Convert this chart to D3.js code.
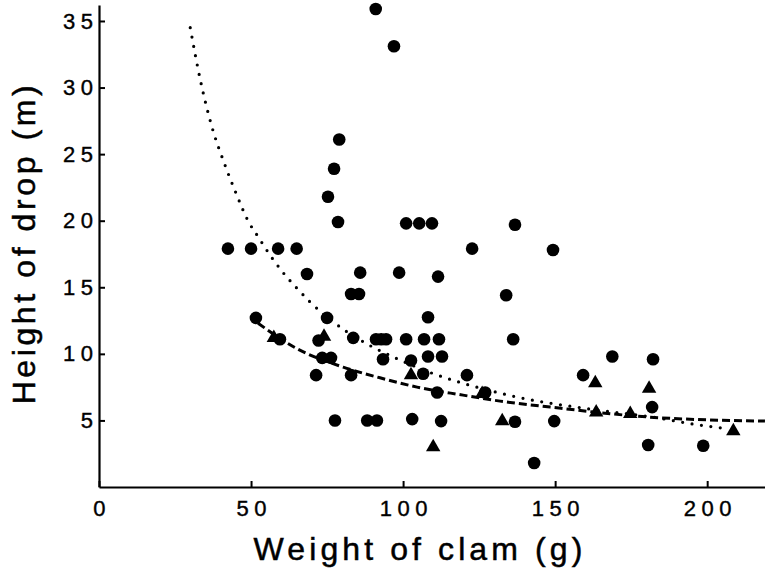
<!DOCTYPE html>
<html>
<head>
<meta charset="utf-8">
<script src="https://cdn.jsdelivr.net/npm/d3@7"></script>
<style>
  body { margin: 0; background: #fff; }
  text { font-family: "Liberation Sans", Arial, sans-serif; fill: #000; }
</style>
</head>
<body>
<div id="chart"></div>
<script>
// circles: weight of clam (g), height of drop (m)
const circleX = [42.4, 50, 58.9, 65, 68.4, 51.6, 91, 97, 79, 77.3, 75.3, 78.6, 101, 105.3, 109.5,
  122.7, 136.8, 149.3, 133.9, 136.2, 168.8, 182.2, 121, 159.2, 127, 181.9, 136.8, 149.7, 180.6,
  198.7, 143.1, 85.9, 98.7, 111.5, 82.9, 85.5, 75, 108.2, 59.5, 72.2, 83.6, 91.1, 92.8, 94.4,
  101, 106.9, 111.8, 73.4, 76.3, 93.4, 102.6, 108.2, 112.8, 71.4, 82.9, 106.6, 111.2, 77.6,
  88.2, 91.4, 103, 112.5];
const circleY = [17.9, 17.9, 17.9, 17.9, 16.0, 12.7, 35.9, 33.1, 26.1, 23.9, 21.8, 19.9, 19.8, 19.8, 19.8,
  17.9, 19.7, 17.8, 14.4, 11.1, 9.8, 9.6, 8.4, 8.4, 7.1, 6.0, 4.9, 4.95, 3.15,
  3.1, 1.8, 16.1, 16.1, 15.8, 14.5, 14.5, 12.7, 12.75, 11.1, 11.0, 11.2, 11.1, 11.1, 11.1,
  11.1, 11.1, 11.1, 9.7, 9.7, 9.6, 9.5, 9.8, 9.8, 8.4, 8.4, 8.5, 7.1, 5.0,
  5.0, 5.0, 5.1, 4.95];

// triangles
const triX = [57.5, 74, 102.6, 109.9, 126, 132.6, 163.2, 163.5, 174.7, 180.9, 208.6];
const triY = [11.2, 11.3, 8.4, 3.0, 7.0, 4.95, 7.8, 5.6, 5.5, 7.4, 4.2];

// dotted curve
const dotX = [30, 33.2, 37.2, 41.4, 45, 49, 52.6, 56.3, 60.2, 64.8, 69.4, 80, 88.5, 97.4, 109.5,
  118.8, 131, 137.5, 160, 183.5, 196, 206];
const dotY = [34.5, 30.7, 27, 24.2, 22.1, 20, 18.7, 17.4, 16.2, 15, 13.9, 11.9, 10.7, 9.7, 8.55,
  7.85, 7.1, 6.75, 5.9, 5.2, 4.7, 4.4];

// dashed curve
const dashX = [52.3, 65, 80.3, 92.4, 104.6, 119.7, 131.9, 148.4, 181, 219];
const dashY = [12.3, 10.4, 9.0, 8.2, 7.5, 6.9, 6.45, 6.0, 5.25, 4.95];

const xTicks = [0, 50, 100, 150, 200];
const yTicks = [5, 10, 15, 20, 25, 30, 35];

const width = 765, height = 578;

const svg = d3.select("#chart")
    .append("svg")
    .attr("width", width)
    .attr("height", height);

const x = d3.scaleLinear().domain([0, 220]).range([99, 768]);
const y = d3.scaleLinear().domain([0, 36.2]).range([487, 5]);

// axes, ticks pointing inward
const xAxis = svg.append("g")
    .attr("transform", "translate(0,487)")
    .call(d3.axisBottom(x).tickValues(xTicks).tickSize(-6).tickPadding(13).tickSizeOuter(0));
xAxis.select(".domain").attr("stroke-width", 2.2);
xAxis.selectAll(".tick line").attr("stroke-width", 2);
xAxis.selectAll(".tick text")
    .attr("font-size", 22)
    .attr("letter-spacing", 5.5)
    .attr("dx", 2.7)
    .attr("dy", "0.71em")
    .attr("stroke", "#000")
    .attr("stroke-width", 0.4)
    .attr("font-family", "Liberation Sans, Arial, sans-serif");

const yAxis = svg.append("g")
    .attr("transform", "translate(99,0)")
    .call(d3.axisLeft(y).tickValues(yTicks).tickSize(-6).tickSizeOuter(0));
yAxis.select(".domain").attr("stroke-width", 2.2);
yAxis.selectAll(".tick line").attr("stroke-width", 2);
yAxis.selectAll(".tick text")
    .attr("font-size", 22)
    .attr("letter-spacing", 5.5)
    .attr("x", -0.5)
    .attr("stroke", "#000")
    .attr("stroke-width", 0.4)
    .attr("font-family", "Liberation Sans, Arial, sans-serif");

// curves
const dotted = d3.range(dotX.length).map(i => [dotX[i], dotY[i]]);
const dashed = d3.range(dashX.length).map(i => [dashX[i], dashY[i]]);
const line = d3.line()
    .x(d => x(d[0]))
    .y(d => y(d[1]))
    .curve(d3.curveMonotoneX);

svg.append("path")
    .datum(dotted)
    .attr("fill", "none")
    .attr("stroke", "#000")
    .attr("stroke-width", 3.2)
    .attr("stroke-linecap", "round")
    .attr("stroke-dasharray", "0 9.5")
    .attr("d", line);

svg.append("path")
    .datum(dashed)
    .attr("fill", "none")
    .attr("stroke", "#000")
    .attr("stroke-width", 3)
    .attr("stroke-dasharray", "8 4")
    .attr("d", line);

// markers
const circles = d3.range(circleX.length).map(i => [circleX[i], circleY[i]]);
svg.append("g")
    .selectAll("circle")
    .data(circles)
    .join("circle")
    .attr("cx", d => x(d[0]))
    .attr("cy", d => y(d[1]))
    .attr("r", 6.3)
    .attr("fill", "#000");

const tris = d3.range(triX.length).map(i => [triX[i], triY[i]]);
svg.append("g")
    .selectAll("path")
    .data(tris)
    .join("path")
    .attr("transform", d => `translate(${x(d[0])},${y(d[1])})`)
    .attr("d", d3.symbol(d3.symbolTriangle, 90))
    .attr("fill", "#000");

// axis titles
svg.append("text")
    .attr("x", 420)
    .attr("y", 560)
    .attr("text-anchor", "middle")
    .attr("font-size", 32)
    .attr("letter-spacing", 4.1)
    .attr("stroke", "#000")
    .attr("stroke-width", 0.5)
    .text("Weight of clam (g)");

svg.append("text")
    .attr("transform", "translate(35,243) rotate(-90)")
    .attr("text-anchor", "middle")
    .attr("font-size", 32)
    .attr("letter-spacing", 3.6)
    .attr("stroke", "#000")
    .attr("stroke-width", 0.5)
    .text("Height of drop (m)");
</script>
</body>
</html>
